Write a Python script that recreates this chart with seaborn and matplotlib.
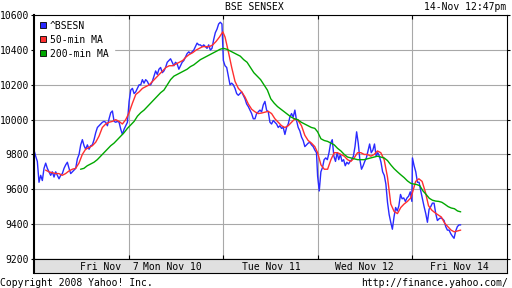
import numpy as np
import pandas as pd
import matplotlib
matplotlib.use("Agg")
import matplotlib.pyplot as plt
import seaborn as sns
from matplotlib.lines import Line2D

# ---------------- data ----------------
SESSION = 335  # trading minutes per session (9:55 - 15:30)
days = ["Fri Nov  7", "Mon Nov 10", "Tue Nov 11", "Wed Nov 12", "Fri Nov 14"]
day_label_pos = [0.80, 1.46, 2.51, 3.49, 4.50]
yticks = [9200, 9400, 9600, 9800, 10000, 10200, 10400, 10600]
series_names = ["^BSESN", "50-min MA", "200-min MA"]

# (first minute, last minute) of each day's samples
blue_times = [(0, 331), (2, 331), (1, 331), (0, 334), (1, 172)]
red_times = [(41, 325), (2, 334), (7, 325), (0, 330), (1, 172)]
green_times = [(165, 331), (8, 325), (1, 325), (0, 330), (5, 172)]

blue_d0 = [9825, 9790, 9760, 9640, 9680, 9650, 9720, 9750, 9720, 9700, 9680, 9700, 9670, 9700, 9680,
           9660, 9680, 9690, 9720, 9740, 9755, 9720, 9690, 9700, 9710, 9720, 9775, 9800, 9855, 9885,
           9850, 9830, 9855, 9830, 9850, 9855, 9885, 9925, 9955, 9965, 9975, 9985, 9990, 9985, 9965,
           10005, 10040, 10050, 9990, 9985, 9990, 9985, 9945, 9915, 9945, 9965, 9985]
blue_d1 = [10105, 10170, 10180, 10150, 10160, 10180, 10200, 10200, 10230, 10210, 10230, 10220, 10200,
           10200, 10220, 10250, 10280, 10260, 10290, 10300, 10270, 10280, 10300, 10330, 10340, 10350,
           10330, 10310, 10330, 10320, 10290, 10310, 10330, 10340, 10360, 10380, 10390, 10380, 10390,
           10400, 10420, 10440, 10430, 10430, 10420, 10430, 10420, 10410, 10430, 10400, 10410, 10460,
           10500, 10520, 10550, 10560, 10550]
blue_d2 = [10340, 10310, 10300, 10250, 10200, 10210, 10200, 10180, 10150, 10140, 10150, 10160, 10140,
           10120, 10090, 10075, 10055, 10035, 10005, 10005, 10035, 10045, 10055, 10045, 10085, 10105,
           10055, 10045, 9985, 9975, 9995, 9985, 9975, 9955, 9965, 9950, 9955, 9915, 9955, 9975, 10015,
           10035, 10015, 10055, 9995, 9955, 9935, 9900, 9880, 9845, 9855, 9865, 9870, 9855, 9845, 9825,
           9810]
blue_d3 = [9675, 9590, 9700, 9725, 9770, 9780, 9770, 9810, 9865, 9885, 9790, 9760, 9810, 9770, 9800,
           9760, 9770, 9735, 9755, 9745, 9760, 9770, 9790, 9845, 9930, 9865, 9770, 9715, 9735, 9760,
           9780, 9820, 9860, 9810, 9825, 9860, 9790, 9810, 9790, 9755, 9700, 9680, 9630, 9525, 9455,
           9410, 9370, 9440, 9495, 9475, 9505, 9570, 9545, 9550, 9530, 9550, 9560, 9585, 9530]
blue_d4 = [9780, 9735, 9700, 9640, 9640, 9590, 9545, 9500, 9460, 9410, 9485, 9500, 9520, 9520, 9460,
           9420, 9430, 9435, 9430, 9420, 9385, 9365, 9365, 9345, 9330, 9318, 9360, 9385, 9395, 9395]

red_d0 = [9710, 9700, 9695, 9690, 9690, 9680, 9690, 9705, 9715, 9720, 9750, 9800, 9830, 9840, 9850,
          9870, 9905, 9955, 9975, 9985, 9990, 10000, 9990, 9975, 10000]
red_d1 = [10040, 10095, 10145, 10160, 10180, 10190, 10200, 10220, 10240, 10260, 10280, 10300, 10310,
          10310, 10320, 10330, 10340, 10360, 10375, 10385, 10400, 10410, 10420, 10420, 10420, 10430,
          10450, 10475, 10505]
red_d2 = [10475, 10390, 10300, 10220, 10180, 10160, 10130, 10090, 10060, 10045, 10035, 10038, 10043,
          10048, 10035, 10005, 9985, 9965, 9955, 9965, 9985, 10005, 9995, 9965, 9910, 9880, 9865, 9845]
red_d3 = [9810, 9740, 9715, 9715, 9770, 9810, 9810, 9800, 9790, 9770, 9760, 9780, 9810, 9810, 9800,
          9800, 9790, 9800, 9820, 9810, 9770, 9670, 9515, 9472, 9460, 9495, 9515, 9530, 9550]
red_d4 = [9580, 9645, 9660, 9645, 9585, 9505, 9480, 9465, 9452, 9440, 9405, 9385, 9365, 9355, 9360, 9365]

green_d0 = [9715, 9720, 9735, 9745, 9755, 9770, 9790, 9810, 9830, 9850, 9865, 9885, 9905, 9925, 9950]
green_d1 = [9970, 9990, 10020, 10040, 10055, 10075, 10095, 10115, 10135, 10155, 10170, 10200, 10230,
            10250, 10260, 10270, 10280, 10290, 10305, 10315, 10330, 10345, 10355, 10365, 10375, 10385,
            10395, 10405]
green_d2 = [10410, 10405, 10395, 10385, 10375, 10365, 10345, 10330, 10300, 10270, 10250, 10230, 10200,
            10170, 10120, 10095, 10075, 10060, 10045, 10030, 10015, 10005, 10000, 9985, 9975, 9965,
            9955, 9950]
green_d3 = [9930, 9890, 9880, 9875, 9865, 9855, 9835, 9820, 9800, 9785, 9780, 9775, 9770, 9770, 9770,
            9775, 9780, 9785, 9790, 9785, 9780, 9765, 9740, 9718, 9700, 9683, 9667, 9648, 9634]
green_d4 = [9630, 9627, 9620, 9590, 9570, 9548, 9537, 9532, 9530, 9525, 9513, 9500, 9492, 9488, 9475, 9470]

colors = ["#2a2aff", "#ff2f2f", "#00a800"]


def build(name, times, segs):
    rows = []
    for d, ((t0, t1), vals) in enumerate(zip(times, segs)):
        mins = np.linspace(t0, t1, len(vals))
        for m, v in zip(mins, vals):
            rows.append((d + m / SESSION, v, name))
    return rows


rows = []
rows += build(series_names[0], blue_times, [blue_d0, blue_d1, blue_d2, blue_d3, blue_d4])
rows += build(series_names[1], red_times, [red_d0, red_d1, red_d2, red_d3, red_d4])
rows += build(series_names[2], green_times, [green_d0, green_d1, green_d2, green_d3, green_d4])
df = pd.DataFrame(rows, columns=["x", "value", "series"])

# ---------------- figure ----------------
sns.set_theme(style="white")
plt.rcParams["font.family"] = ["DejaVu Sans Mono", "DejaVu Sans"]
FS = 7

W, H = 512, 288
fig = plt.figure(figsize=(W / 100, H / 100), dpi=100)
fig.patch.set_facecolor("white")
L, R = 34 / W, 506.7 / W
TOP, BOT = 15.3, 258.8
ax = fig.add_axes([L, 1 - BOT / H, R - L, (BOT - TOP) / H])
ax.set_facecolor("white")

sns.lineplot(data=df, x="x", y="value", hue="series", hue_order=series_names,
             palette=colors, sort=False, estimator=None, legend=False, lw=1.0, ax=ax)

ax.set_xlim(0, 5.0)
ax.set_ylim(9200, 10600)
ax.set_yticks(yticks)
ax.set_yticklabels([str(t) for t in yticks], fontsize=FS)
ax.set_xticks([1, 2, 3, 4])
ax.set_xticklabels([])
ax.set_xlabel("")
ax.set_ylabel("")
ax.set_axisbelow(True)
ax.grid(True, color="#a8a8a8", lw=0.8)
ax.tick_params(axis="y", left=True, right=True, direction="out", length=2.5, width=0.8,
               color="black", pad=1.2, labelleft=True, labelright=False, labelcolor="black")
ax.tick_params(axis="x", top=True, bottom=True, direction="in", length=3, width=0.8,
               color="black", labelbottom=False)
for s, sp in ax.spines.items():
    sp.set_color("black")
    sp.set_linewidth(0.8)
    sp.set_zorder(10)
ax.spines["left"].set_linewidth(1.5)

handles = [Line2D([0], [0], ls="none", marker="s", ms=4.6, mfc=c, mec="#000000", mew=0.6)
           for c in colors]
leg = ax.legend(handles, series_names, loc="upper left", bbox_to_anchor=(0, 1), frameon=True,
                fancybox=False, framealpha=1, facecolor="white", edgecolor="white",
                borderpad=0.55, handlelength=0.7, handletextpad=0.35, labelspacing=0.42,
                borderaxespad=0.0, fontsize=FS)
leg.set_zorder(5)
for t in leg.get_texts():
    t.set_color("black")

# date band
bax = fig.add_axes([L, 1 - 273.3 / H, R - L, (273.3 - BOT) / H])
bax.set_facecolor("#e0e0e0")
bax.set_xlim(0, 5.0)
bax.set_ylim(0, 1)
bax.set_xticks([])
bax.set_yticks([])
for s, sp in bax.spines.items():
    sp.set_color("black")
    sp.set_linewidth(0.8)
bax.spines["left"].set_linewidth(1.5)
for p, lab in zip(day_label_pos, days):
    bax.text(p, 0.45, lab, ha="center", va="center", fontsize=FS, color="black")

fig.text(254.5 / W, 1 - 6.8 / H, "BSE SENSEX", ha="center", va="center", fontsize=FS, color="black")
fig.text(506 / W, 1 - 6.8 / H, "14-Nov 12:47pm", ha="right", va="center", fontsize=FS, color="black")
fig.text(0.5 / W, 1 - 282.5 / H, "Copyright 2008 Yahoo! Inc.", ha="left", va="center",
         fontsize=FS, color="black")
fig.text(507.5 / W, 1 - 283 / H, "http://finance.yahoo.com/", ha="right", va="center",
         fontsize=FS, color="black")

fig.savefig("out.png", dpi=100, facecolor="white")
